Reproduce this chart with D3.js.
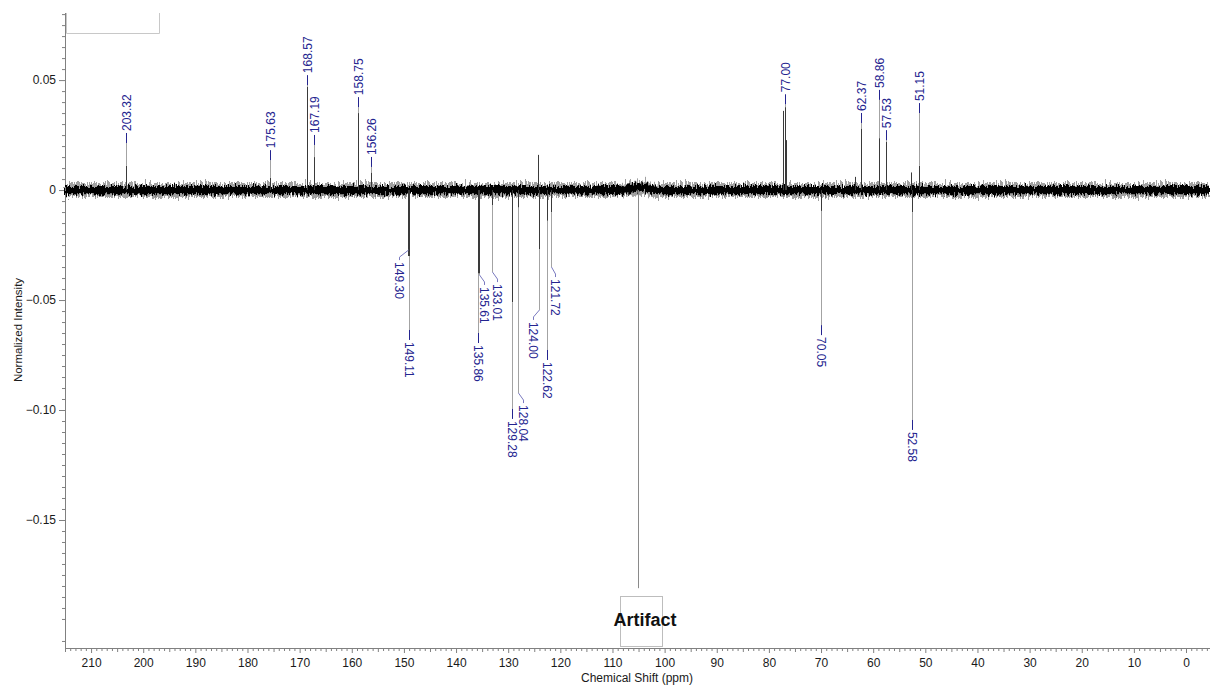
<!DOCTYPE html>
<html>
<head>
<meta charset="utf-8">
<script src="https://cdn.jsdelivr.net/npm/d3@7"></script>
<style>
  body { margin: 0; background: #fff; }
  svg { display: block; font-family: "Liberation Sans", Arial, sans-serif; }
</style>
</head>
<body>
<svg id="chart" width="1210" height="686"></svg>
<script>
// ---- 13C NMR peak list (chemical shift in ppm, normalized intensity) ----
const labeledShifts = [203.32, 175.63, 168.57, 167.19, 158.75, 156.26, 149.30, 149.11,
  135.86, 135.61, 133.01, 129.28, 128.04, 124.00, 122.62, 121.72,
  77.00, 70.05, 62.37, 58.86, 57.53, 52.58, 51.15];
const labeledIntensities = [0.011, 0.0055, 0.047, 0.015, 0.035, 0.008, -0.030, -0.030,
  -0.038, -0.038, -0.007, -0.051, -0.008, -0.027, -0.014, -0.010,
  0.0377, -0.0095, 0.028, 0.0236, 0.022, -0.010, 0.011];

// unlabeled lines: outer lines of the CDCl3 triplet and small spikes
const extraShifts = [77.32, 76.68, 124.30, 52.75, 63.50];
const extraIntensities = [0.036, 0.0227, 0.016, 0.008, 0.006];

// spurious signal flagged as an artifact
const artifactShift = 105.1;
const artifactIntensity = -0.181;

// baseline level (slight hump under the artifact) and noise half-widths
const baselineShifts = [215, 108.5, 106.5, 105, 103.5, 101.5, -4.6];
const baselineLevels = [0, 0, 0.0008, 0.0014, 0.0008, 0, 0];
const noiseAmplitude = 0.0019;
const noiseSpikeAmplitude = 0.0032;

// axis ticks
const yTickValues = [0.05, 0, -0.05, -0.10, -0.15];
const xTickValues = d3.range(0, 211, 10);

// ---- label layout: where each leader ends (intensity) and where the label sits (ppm) ----
const labelLevels = [0.0214, 0.0136, 0.0477, 0.0205, 0.0377, 0.0105, -0.0273, -0.0636,
  -0.065, -0.0386, -0.0373, -0.0995, -0.0923, -0.0545, -0.0727, -0.035,
  0.039, -0.0614, 0.0305, 0.041, 0.0227, -0.1045, 0.035];
const labelPositions = [203.32, 175.63, 168.57, 167.19, 158.75, 156.26, 151.00, 149.11,
  135.86, 134.66, 132.06, 129.28, 127.09, 125.15, 122.62, 120.97,
  77.00, 70.05, 62.37, 58.86, 57.53, 52.58, 51.15];

const svg = d3.select("#chart");
const x = d3.scaleLinear().domain([215, -4.6]).range([65, 1210]);
const y = d3.scaleLinear().domain([0.0805, -0.2082]).range([13, 648]);
const px = v => Math.round(x(v)) + 0.5;

const AXIS = "#808080", LEADER = "#a3a3a3", LABEL = "#24248f", BEND = "#7a7ac0";

// ---- noise textures for the baseline ----
const defs = svg.append("defs");
function noiseFilter(id, freq, scale, seed) {
  const f = defs.append("filter").attr("id", id)
    .attr("filterUnits", "userSpaceOnUse")
    .attr("x", 55).attr("y", 150).attr("width", 1170).attr("height", 80)
    .attr("color-interpolation-filters", "sRGB");
  f.append("feTurbulence").attr("type", "fractalNoise")
    .attr("baseFrequency", freq).attr("numOctaves", 2).attr("seed", seed).attr("result", "n");
  f.append("feDisplacementMap").attr("in", "SourceGraphic").attr("in2", "n")
    .attr("scale", scale).attr("xChannelSelector", "R").attr("yChannelSelector", "G");
}
noiseFilter("noisy", "0.9 0.12", 10, 7);
noiseFilter("spiky", "1.6 0.05", 16, 3);

// ---- axes ----
const yAxisG = svg.append("g").attr("transform", "translate(65,0)");
const yMinor = d3.range(-41, 17).map(i => +(i * 0.005).toFixed(3));
yAxisG.append("g").call(d3.axisLeft(y).tickValues(yMinor.filter(v => Math.abs(v * 200 % 10) > 1e-6)).tickSize(3).tickFormat(""))
  .call(g => g.select(".domain").remove());
yAxisG.append("g").call(d3.axisLeft(y).tickValues(yMinor.filter(v => Math.abs(v * 200 % 10) < 1e-6 && Math.abs(v * 20 % 1) > 1e-6)).tickSize(5).tickFormat(""))
  .call(g => g.select(".domain").remove());
yAxisG.append("g").call(d3.axisLeft(y).tickValues(yTickValues).tickSize(6).tickPadding(3)
    .tickFormat(v => v === 0 ? "0" : d3.format(".2f")(v)))
  .call(g => g.select(".domain").remove());
yAxisG.append("line").attr("x1", 0.5).attr("x2", 0.5).attr("y1", 13).attr("y2", 648).attr("stroke", AXIS);

const xAxisG = svg.append("g").attr("transform", "translate(0,648)");
xAxisG.append("g").call(d3.axisBottom(x).tickValues(d3.range(-4, 216).filter(v => v % 5 !== 0)).tickSize(3).tickFormat(""))
  .call(g => g.select(".domain").remove());
xAxisG.append("g").call(d3.axisBottom(x).tickValues(d3.range(0, 216, 5).filter(v => v % 10 !== 0)).tickSize(4).tickFormat(""))
  .call(g => g.select(".domain").remove());
xAxisG.append("g").call(d3.axisBottom(x).tickValues(xTickValues).tickSize(5).tickPadding(5).tickFormat(d3.format("d")))
  .call(g => g.select(".domain").remove());
xAxisG.append("line").attr("x1", 65).attr("x2", 1210).attr("y1", 0.5).attr("y2", 0.5).attr("stroke", AXIS);

svg.selectAll(".tick line").attr("stroke", AXIS);
svg.selectAll(".tick text").attr("font-size", 12).attr("fill", "#1a1a1a")
  .attr("font-family", "'Liberation Sans', Arial, sans-serif");

svg.append("text").attr("x", 637).attr("y", 682).attr("text-anchor", "middle")
  .attr("font-size", 12).attr("fill", "#1a1a1a").text("Chemical Shift (ppm)");
svg.append("text").attr("transform", "translate(22,330) rotate(-90)").attr("text-anchor", "middle")
  .attr("font-size", 11.5).attr("fill", "#1a1a1a").text("Normalized Intensity");

// empty legend frame in the corner (open at the top)
svg.append("path").attr("d", "M66.5,13 V33.5 H159.5 V13")
  .attr("fill", "none").attr("stroke", "#c8c8c8");

// ---- baseline with noise ----
const baseline = baselineShifts.map((s, i) => [s, baselineLevels[i]]);
const band = amp => d3.area().x(d => x(d[0])).y0(d => y(d[1] - amp)).y1(d => y(d[1] + amp));
svg.append("path").datum(baseline).attr("d", band(noiseSpikeAmplitude))
  .attr("fill", "#555").attr("opacity", 0.55).attr("filter", "url(#spiky)");
svg.append("path").datum(baseline).attr("d", band(noiseAmplitude))
  .attr("fill", "#000").attr("filter", "url(#noisy)");

// ---- spectral lines ----
const lines = labeledShifts.map((s, i) => ({ s, v: labeledIntensities[i] }))
  .concat(extraShifts.map((s, i) => ({ s, v: extraIntensities[i] })));
svg.append("g").selectAll("line").data(lines).join("line")
  .attr("x1", d => px(d.s)).attr("x2", d => px(d.s))
  .attr("y1", y(0)).attr("y2", d => y(d.v))
  .attr("stroke", "#3a3a3a").attr("stroke-width", 1);

// artifact line and its marker box
svg.append("line").attr("x1", px(artifactShift)).attr("x2", px(artifactShift))
  .attr("y1", y(0)).attr("y2", y(artifactIntensity)).attr("stroke", "#8a8a8a");
svg.append("rect").attr("x", 620.5).attr("y", 596.5).attr("width", 42).attr("height", 50)
  .attr("fill", "none").attr("stroke", "#bdbdbd");
svg.append("text").attr("x", 645).attr("y", 626).attr("text-anchor", "middle")
  .attr("font-size", 18).attr("font-weight", "bold").attr("fill", "#111").text("Artifact");

// ---- peak labels ----
const labels = labeledShifts.map((s, i) => ({
  s, v: labeledIntensities[i], level: labelLevels[i], at: labelPositions[i]
}));
const lg = svg.append("g");
labels.forEach(d => {
  const xp = px(d.s), xl = px(d.at), yv = y(d.v), yl = y(d.level);
  const up = d.level > 0;
  // grey leader from the peak tip to the label
  if (up ? yl < yv : yl > yv) {
    lg.append("line").attr("x1", xp).attr("x2", xp).attr("y1", yv).attr("y2", yl)
      .attr("stroke", LEADER);
  }
  let textStart;
  if (Math.abs(xl - xp) > 1) {
    // bent connector to an offset label
    lg.append("path").attr("d", `M${xp},${yl} L${xl},${yl + 7} L${xl},${yl + 10}`)
      .attr("fill", "none").attr("stroke", BEND);
    textStart = yl + 12;
  } else {
    const dir = up ? -1 : 1;
    lg.append("line").attr("x1", xp).attr("x2", xp).attr("y1", yl).attr("y2", yl + dir * 10)
      .attr("stroke", LABEL);
    textStart = yl + dir * 12;
  }
  lg.append("text")
    .attr("transform", `translate(${xl},${textStart}) rotate(${up ? -90 : 90})`)
    .attr("dy", "0.35em").attr("font-size", 12).attr("fill", LABEL)
    .text(d3.format(".2f")(d.s));
});
</script>
</body>
</html>
